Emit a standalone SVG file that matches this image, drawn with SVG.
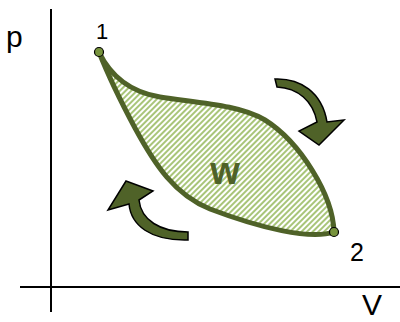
<svg xmlns="http://www.w3.org/2000/svg" width="400" height="322" viewBox="0 0 400 322">
<style>
.axis{stroke:#000;stroke-width:2;fill:none}
.lbl{font-family:"Liberation Sans",Arial,sans-serif;fill:#000}
.cyc{fill:url(#hatch);stroke:#4F6228;stroke-width:5;stroke-linejoin:round}
.dot{fill:#77933C;stroke:#000;stroke-width:1.2}
.arr{fill:#4F6228;stroke:#000;stroke-width:1.5;stroke-linejoin:miter}
</style>
<defs>
<pattern id="hatch" patternUnits="userSpaceOnUse" width="4" height="4" patternTransform="rotate(45)">
<rect width="4" height="4" fill="#fff"/>
<line x1="1" y1="0" x2="1" y2="4" stroke="#9fbf6a" stroke-width="1.8"/>
</pattern>
</defs>
<g id="axes">
<line class="axis" x1="51" y1="9" x2="51" y2="312"/>
<line class="axis" x1="20" y1="287" x2="400" y2="287"/>
<text class="lbl" x="6" y="47" font-size="30">p</text>
<text class="lbl" x="362" y="315" font-size="30">V</text>
</g>
<g id="cycle">
<path class="cyc" d="M99,52 C110,75 130,92 160,97 C200,103 240,105 265,120 C300,142 333,195 334,232 C310,240 260,228 210,209 C175,195 155,165 135,128 C120,100 108,75 99,52 Z"/>
<text x="225" y="184" font-family="'Liberation Sans',Arial,sans-serif" font-weight="bold" font-size="38" fill="#4F6228" text-anchor="middle">w</text>
</g>
<g id="state1">
<circle class="dot" cx="99" cy="52" r="4.5"/>
<text class="lbl" x="96" y="39" font-size="22">1</text>
</g>
<g id="state2">
<circle class="dot" cx="334" cy="232" r="4.5"/>
<text class="lbl" x="350" y="261" font-size="25">2</text>
</g>
<g id="connectors">
<path class="arr" d="M275,79 C300,78 322,92 327,122 L344,120 L319,145 L299,131 L317,122 C313,101 298,88 277,87 Z"/>
<path class="arr" d="M126,181 L153,191 L139,200 C141,220 160,232 188,232 L188,240 C150,241 131,225 129,204 L108,210 Z"/>
</g>
</svg>
